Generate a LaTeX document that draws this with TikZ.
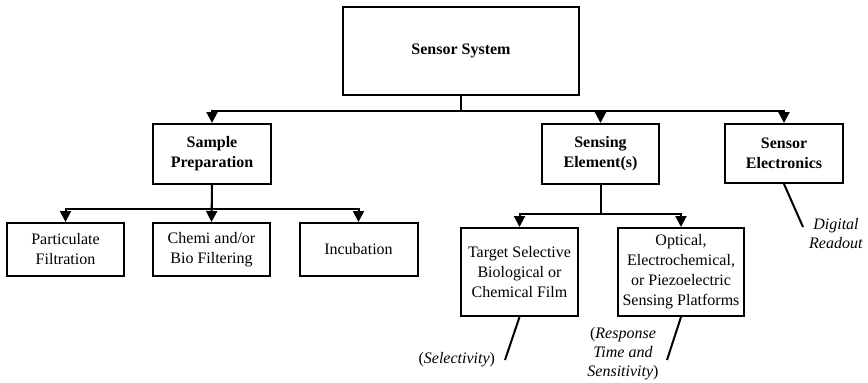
\documentclass[tikz,border=0pt]{standalone}
\usepackage{fontspec}
\setmainfont{Liberation Serif}
\usetikzlibrary{arrows.meta}
\begin{document}
\begin{tikzpicture}[x=1pt,y=-1pt,line width=2pt,
  >={Triangle[length=11pt,width=11pt]},
  kasten/.style 2 args={draw,align=center,inner sep=0pt,
    minimum width=#1,minimum height=#2,
    font=\fontsize{16}{20}\selectfont},
  notiz/.style={align=center,inner sep=0pt,
    font=\fontsize{16}{19}\selectfont}]
\useasboundingbox (0,0) rectangle (868,383);
% top level
\node[kasten={236pt}{88pt}] (sys) at (461,51) {\textbf{Sensor System}};
\node[kasten={118pt}{60pt}] (prep) at (212,154) {\textbf{Sample}\\\textbf{Preparation}};
\node[kasten={117pt}{60pt}] (sens) at (600.5,154) {\textbf{Sensing}\\\textbf{Element(s)}};
\node[kasten={118pt}{59pt}] (elec) at (784,153.5) {\textbf{Sensor}\\\textbf{Electronics}};
% sample preparation
\node[kasten={117pt}{53pt}] (part) at (65.5,249.5) {Particulate\\Filtration};
\node[kasten={117pt}{53pt}] (chemi) at (211.5,249.5) {Chemi and/or\\Bio Filtering};
\node[kasten={118pt}{53pt}] (incub) at (358.5,249.5) {Incubation};
% sensing elements
\node[kasten={117pt}{88pt}] (target) at (519.5,272) {Target Selective\\Biological or\\Chemical Film};
\node[kasten={126pt}{88pt}] (optic) at (681,272) {Optical,\\Electrochemical,\\or Piezoelectric\\Sensing Platforms};
% arrows
\draw[->] (sys.south) -- ++(0,15) -| (prep.north);
\draw[->] (sys.south) -- ++(0,15) -| (sens.north);
\draw[->] (sys.south) -- ++(0,15) -| (elec.north);
\draw[->] (prep.south) -- ++(0,24) -| (part.north);
\draw[->] (prep.south) -- (chemi.north);
\draw[->] (prep.south) -- ++(0,24) -| (incub.north);
\draw[->] (sens.south) -- ++(0,29) -| (target.north);
\draw[->] (sens.south) -- ++(0,29) -| (optic.north);
% notes
\coordinate (selEnd) at (505,360);
\coordinate (respEnd) at (667,360);
\coordinate (readEnd) at (803,227);
\draw (target.south) -- (selEnd);
\draw (optic.south) -- (respEnd);
\draw (elec.south) -- (readEnd);
\node[notiz,anchor=base east] (sel) at (496,363) {(\textit{Selectivity})};
\node[notiz] (resp) at (623,354) {(\textit{Response}\\\textit{Time and}\\\textit{Sensitivity})};
\node[notiz] (read) at (836,234) {\textit{Digital}\\\textit{Readout}};
\end{tikzpicture}
\end{document}
